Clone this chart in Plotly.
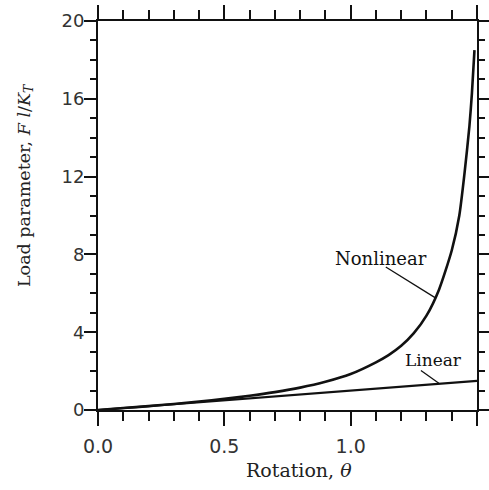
import plotly.graph_objects as go

# Data
theta_nonlinear = [0.0, 0.1, 0.2, 0.3, 0.4, 0.5, 0.6, 0.7, 0.8, 0.9, 1.0, 1.1, 1.15, 1.2,
                   1.25, 1.3, 1.35, 1.4, 1.43, 1.45, 1.47, 1.48, 1.49]
load_nonlinear = [0.0, 0.10, 0.20, 0.31, 0.44, 0.57, 0.73, 0.92, 1.15, 1.45, 1.85, 2.45, 2.82, 3.3,
                  3.95, 4.85, 6.2, 8.2, 10.0, 12.1, 14.6, 16.3, 18.5]
theta_linear = [0.0, 1.5]
load_linear = [0.0, 1.5]

x_ticks = [0.0, 0.5, 1.0, 1.5]
x_tick_labels = ["0.0", "0.5", "1.0", "1.5"]
y_ticks = [0, 4, 8, 12, 16, 20]
y_tick_labels = ["0", "4", "8", "12", "16", "20"]

serif = "DejaVu Serif, Liberation Serif, serif"
sans = "DejaVu Sans, Liberation Sans, sans-serif"

fig = go.Figure()
fig.add_trace(go.Scatter(x=theta_nonlinear, y=load_nonlinear, mode="lines",
                         line=dict(color="#111", width=2.6, shape="spline", smoothing=0.6),
                         name="Nonlinear", showlegend=False, cliponaxis=False))
fig.add_trace(go.Scatter(x=theta_linear, y=load_linear, mode="lines",
                         line=dict(color="#111", width=2.2),
                         name="Linear", showlegend=False))

axis_common = dict(showgrid=False, zeroline=False, showline=True, linecolor="#111",
                   linewidth=2, mirror="allticks", ticks="outside", tickcolor="#111",
                   tickwidth=1.5, automargin=False)

fig.update_xaxes(range=[0, 1.5], tickvals=x_ticks, ticktext=x_tick_labels, ticklen=14,
                 tickfont=dict(family=sans, size=19, color="#333"), ticklabelstandoff=4,
                 minor=dict(dtick=0.1, ticklen=9, tickcolor="#111", tickwidth=1.5, ticks="outside",
                            showgrid=False),
                 **axis_common)
fig.update_yaxes(range=[0, 20], tickvals=y_ticks, ticktext=y_tick_labels, ticklen=12,
                 tickfont=dict(family=sans, size=18, color="#333"), ticklabelstandoff=-4,
                 minor=dict(dtick=1, ticklen=6, tickcolor="#111", tickwidth=1.5, ticks="outside",
                            showgrid=False),
                 **axis_common)

# Curve labels and leader lines
fig.add_annotation(x=1.119, y=7.8, xref="x", yref="y", text="Nonlinear", showarrow=False,
                   font=dict(family=serif, size=18, color="#111"))
fig.add_annotation(x=1.327, y=2.57, xref="x", yref="y", text="Linear", showarrow=False,
                   font=dict(family=serif, size=17, color="#111"))
fig.add_shape(type="line", xref="x", yref="y", x0=1.139, y0=7.35, x1=1.337, y1=5.75,
              line=dict(color="#111", width=1.3))
fig.add_shape(type="line", xref="x", yref="y", x0=1.278, y0=2.03, x1=1.349, y1=1.38,
              line=dict(color="#111", width=1.3))

# Axis titles
fig.add_annotation(x=-0.193, y=0.578, xref="paper", yref="paper", textangle=-90,
                   text="Load parameter, <i>F l</i>/<i>K</i><sub><i>T</i></sub>",
                   showarrow=False, xanchor="center", yanchor="middle",
                   font=dict(family=serif, size=17.5, color="#222"))
fig.add_annotation(x=0.530, y=-0.154, xref="paper", yref="paper",
                   text="Rotation, <i>θ</i>", showarrow=False, xanchor="center", yanchor="middle",
                   font=dict(family=serif, size=19, color="#222"))

fig.update_layout(width=489, height=490, margin=dict(l=98, r=12, t=21, b=80),
                  paper_bgcolor="white", plot_bgcolor="white")

fig.write_html("out.html")
